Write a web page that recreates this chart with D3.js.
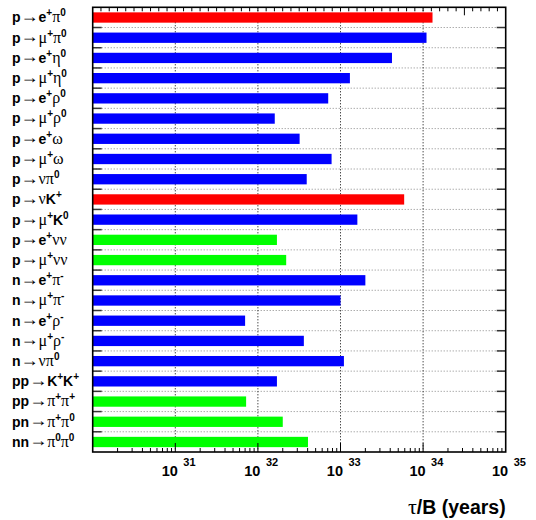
<!DOCTYPE html>
<html>
<head>
<meta charset="utf-8">
<script src="https://cdn.jsdelivr.net/npm/d3@7"></script>
<style>
  html, body { margin: 0; padding: 0; background: #fff; }
  svg { display: block; }
</style>
</head>
<body>
<svg id="chart" width="536" height="520"></svg>
<script>
// Decay channels, top to bottom. "^{...}" marks a superscript.
const channels = [
  "p→e^{+}π^{0}", "p→μ^{+}π^{0}", "p→e^{+}η^{0}", "p→μ^{+}η^{0}",
  "p→e^{+}ρ^{0}", "p→μ^{+}ρ^{0}", "p→e^{+}ω", "p→μ^{+}ω",
  "p→νπ^{0}", "p→νK^{+}", "p→μ^{+}K^{0}", "p→e^{+}νν", "p→μ^{+}νν",
  "n→e^{+}π^{-}", "n→μ^{+}π^{-}", "n→e^{+}ρ^{-}", "n→μ^{+}ρ^{-}", "n→νπ^{0}",
  "pp→K^{+}K^{+}", "pp→π^{+}π^{+}", "pn→π^{+}π^{0}", "nn→π^{0}π^{0}"
];
// Partial lifetime limits τ/B in years
const lifetimes = [
  1.3e34, 1.1e34, 4.2e33, 1.3e33,
  7.1e32, 1.6e32, 3.2e32, 7.8e32,
  3.9e32, 5.9e33, 1.6e33, 1.7e32, 2.2e32,
  2.0e33, 1.0e33, 7.0e31, 3.6e32, 1.1e33,
  1.7e32, 7.2e31, 2.0e32, 4.04e32
];
// Mode group of each channel
const groups = [
  "key", "std", "std", "std",
  "std", "std", "std", "std",
  "std", "key", "std", "nu", "nu",
  "std", "std", "std", "std", "std",
  "std", "nu", "nu", "nu"
];
const groupColors = { key: "#ff0000", std: "#0000ff", nu: "#00ff00" };
const decadeExponents = [31, 32, 33, 34, 35];
const axisTitle = "τ/B (years)";

const svg = d3.select("#chart");
const plot = { left: 92.7, right: 505.7, top: 7.3, bottom: 452 };

const x = d3.scaleLog().domain([1e30, 1e35]).range([plot.left, plot.right]);
const y = d3.scaleBand().domain(d3.range(channels.length)).range([plot.top, plot.bottom]);
const bw = y.bandwidth();

const SANS = "'Liberation Sans', Arial, Helvetica, sans-serif";
const SYM = "'Liberation Serif', 'DejaVu Serif', serif";
const isGreek = ch => /[\u0370-\u03ff]/.test(ch);

// Horizontal dotted grid at row boundaries
const g = svg.append("g");
g.selectAll("line.hgrid").data(d3.range(1, channels.length)).join("line")
  .attr("class", "hgrid")
  .attr("x1", plot.left).attr("x2", plot.right)
  .attr("y1", i => y(i)).attr("y2", i => y(i))
  .attr("stroke", "#888").attr("stroke-width", 1)
  .attr("stroke-dasharray", "1,2");

// Vertical dotted grid at decades
g.selectAll("line.vgrid").data(decadeExponents.slice(0, -1)).join("line")
  .attr("class", "vgrid")
  .attr("x1", e => x(Math.pow(10, e))).attr("x2", e => x(Math.pow(10, e)))
  .attr("y1", plot.top).attr("y2", plot.bottom)
  .attr("stroke", "#000").attr("stroke-width", 1)
  .attr("stroke-dasharray", "1,2");

// Bars
g.selectAll("rect.bar").data(lifetimes).join("rect")
  .attr("class", "bar")
  .attr("x", plot.left)
  .attr("y", (d, i) => y(i) + bw * 0.25)
  .attr("width", d => x(d) - plot.left)
  .attr("height", bw * 0.51)
  .attr("fill", (d, i) => groupColors[groups[i]]);

// Row ticks on left and right edges
const rowTicks = d3.range(1, channels.length);
g.selectAll("line.ltick").data(rowTicks).join("line")
  .attr("x1", plot.left).attr("x2", plot.left + 9)
  .attr("y1", i => y(i)).attr("y2", i => y(i))
  .attr("stroke", "#333").attr("stroke-width", 1.5);
g.selectAll("line.rtick").data(rowTicks).join("line")
  .attr("x1", plot.right - 9).attr("x2", plot.right)
  .attr("y1", i => y(i)).attr("y2", i => y(i))
  .attr("stroke", "#333").attr("stroke-width", 1.5);

// Bottom log-axis ticks
const logTicks = [];
for (let e = 30; e < 35; e++) {
  for (let m = 1; m <= 9; m++) logTicks.push({ v: m * Math.pow(10, e), major: m === 1 });
}
g.selectAll("line.btick").data(logTicks.filter(t => t.v > 1e30)).join("line")
  .attr("x1", t => x(t.v)).attr("x2", t => x(t.v))
  .attr("y1", plot.bottom).attr("y2", t => plot.bottom - (t.major ? 9 : 4))
  .attr("stroke", "#000").attr("stroke-width", 1);

// Top edge ticks
const topTicks = d3.range(1, 50).map(k => plot.left + k * (plot.right - plot.left) / 50);
g.selectAll("line.ttick").data(topTicks).join("line")
  .attr("x1", d => d).attr("x2", d => d)
  .attr("y1", plot.top).attr("y2", (d, k) => plot.top + (k === 44 ? 8 : 4))
  .attr("stroke", "#000").attr("stroke-width", 1);

// Frame
g.append("rect")
  .attr("x", plot.left).attr("y", plot.top)
  .attr("width", plot.right - plot.left).attr("height", plot.bottom - plot.top)
  .attr("fill", "none").attr("stroke", "#000").attr("stroke-width", 1.6);

// Decade labels 10^n
const xl = svg.append("g");
decadeExponents.forEach(e => {
  const px = x(Math.pow(10, e));
  xl.append("text").attr("font-family", SANS).attr("font-weight", "bold")
    .attr("x", px + 2.5).attr("y", 475.5).attr("font-size", 14.5)
    .attr("text-anchor", "end").text("10");
  xl.append("text").attr("font-family", SANS).attr("font-weight", "bold")
    .attr("x", px + 8).attr("y", 466).attr("font-size", 11).text(String(e));
});

// Axis title
const title = svg.append("text")
  .attr("x", plot.right).attr("y", 514)
  .attr("text-anchor", "end").attr("font-size", 19.5).attr("font-weight", "bold")
  .attr("font-family", SANS);
for (const ch of axisTitle) {
  title.append("tspan")
    .attr("font-family", isGreek(ch) ? SYM : SANS)
    .attr("font-weight", isGreek(ch) ? "normal" : "bold")
    .attr("font-size", isGreek(ch) ? 22 : 19.5)
    .text(ch);
}

// Channel labels with superscripts
function parseLabel(s) {
  const parts = [];
  let i = 0;
  while (i < s.length) {
    if (s[i] === "^" && s[i + 1] === "{") {
      const end = s.indexOf("}", i);
      parts.push({ text: s.slice(i + 2, end), sup: true });
      i = end + 1;
    } else {
      parts.push({ text: s[i], sup: false });
      i++;
    }
  }
  return parts;
}

const labels = svg.append("g");
channels.forEach((c, i) => {
  const base = y(i) + bw / 2 + 5;
  const t = labels.append("text").attr("x", 12).attr("font-size", 14).attr("fill", "#000");
  parseLabel(c).forEach(p => {
    for (const ch of p.text) {
      const ts = t.append("tspan").attr("y", p.sup ? base - 6 : base);
      if (ch === "→") {
        ts.attr("font-family", SYM).attr("font-weight", "normal")
          .attr("font-size", 18).attr("y", base - 0.5).text(ch);
      } else if (isGreek(ch)) {
        ts.attr("font-family", SYM).attr("font-weight", "normal")
          .attr("font-size", p.sup ? 10 : 16).text(ch);
      } else {
        ts.attr("font-family", SANS).attr("font-weight", "bold")
          .attr("font-size", p.sup ? 10 : 14).text(ch);
      }
    }
  });
});
</script>
</body>
</html>
